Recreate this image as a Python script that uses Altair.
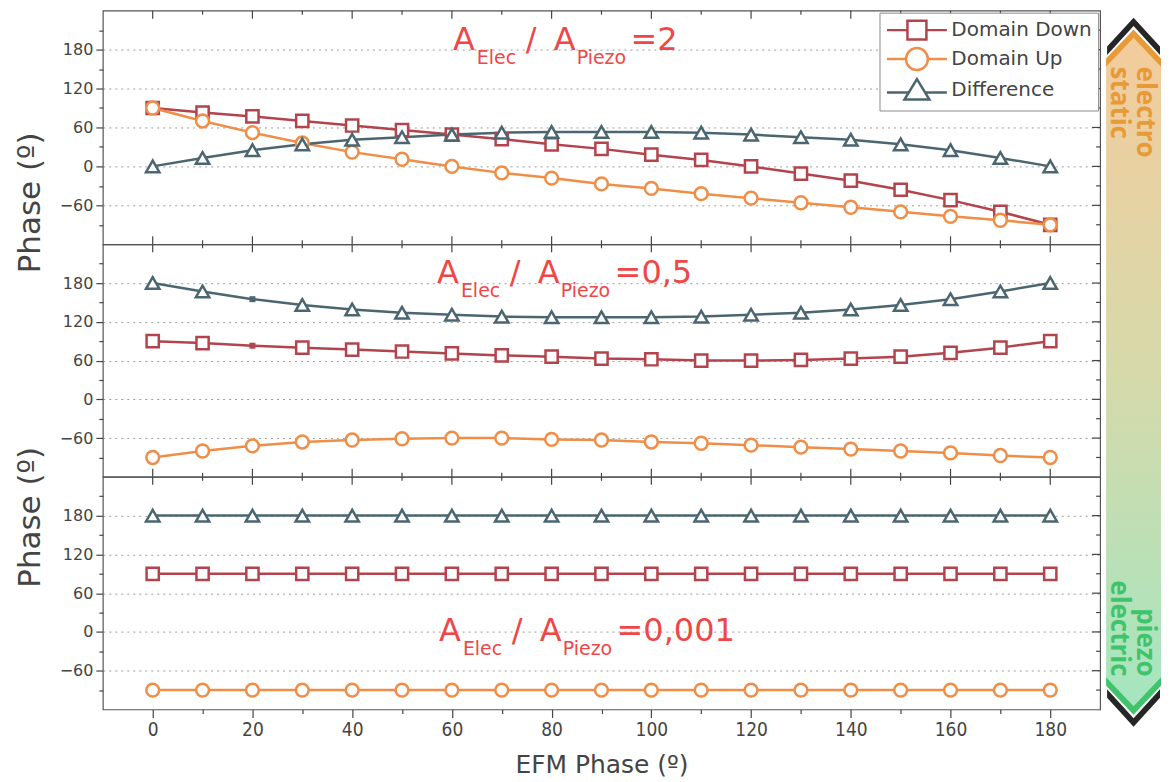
import altair as alt
import pandas as pd

# ---------------- data ----------------
phase = [0, 10, 20, 30, 40, 50, 60, 70, 80, 90, 100, 110, 120, 130, 140, 150, 160, 170, 180]
series_names = ["Domain Down", "Domain Up", "Difference"]
ratio_labels = ["2", "0,5", "0,001"]

# panel 1 : A_Elec / A_Piezo = 2
down_r2 = [90, 83, 77, 70, 63, 56, 49, 42, 34, 27, 18, 10, 0, -11, -22, -36, -52, -70, -90]
up_r2 = [90, 70, 52, 36, 22, 11, 0, -10, -18, -27, -34, -42, -49, -56, -63, -70, -77, -83, -90]
diff_r2 = [0, 13, 25, 34, 41, 45, 49, 52, 53, 53, 53, 52, 49, 45, 41, 34, 25, 13, 0]

# panel 2 : A_Elec / A_Piezo = 0,5
down_r05 = [90, 87, 83, 80, 77, 74, 71, 68, 66, 63, 62, 60, 60, 61, 63, 66, 72, 80, 90]
up_r05 = [-90, -80, -72, -66, -63, -61, -60, -60, -62, -63, -66, -68, -71, -74, -77, -80, -83, -87, -90]
diff_r05 = [180, 167, 155, 146, 139, 134, 131, 128, 127, 127, 127, 128, 131, 134, 139, 146, 155, 167, 180]

# panel 3 : A_Elec / A_Piezo = 0,001
down_r0001 = [90, 90, 90, 90, 90, 90, 90, 90, 90, 90, 90, 90, 90, 90, 90, 90, 90, 90, 90]
up_r0001 = [-90, -90, -90, -90, -90, -90, -90, -90, -90, -90, -90, -90, -90, -90, -90, -90, -90, -90, -90]
diff_r0001 = [180, 180, 180, 180, 180, 180, 180, 180, 180, 180, 180, 180, 180, 180, 180, 180, 180, 180, 180]

# in panel 2 the markers at EFM phase 20 are drawn as small filled squares
small_marker_panel = 1
small_marker_phase = 20
small_marker_series = ["Domain Down", "Difference"]

x_major = [0, 20, 40, 60, 80, 100, 120, 140, 160, 180]
x_minor = [10, 30, 50, 70, 90, 110, 130, 150, 170]
y_major = [-60, 0, 60, 120, 180]
y_minor = [-90, -30, 30, 90, 150, 210]

# ---------------- styles ----------------
colors = ["#b3434c", "#f08d47", "#4b6671"]
shapes = ["square", "circle", "triangle-up"]
sizes = [150, 180, 310]
legend_paths = [
    "M-3,0H-0.95M0.95,0H3M-0.95,-0.95H0.95V0.95H-0.95Z",
    "M-3,0H-1.1M1.1,0H3M1.1,0A1.1,1.1,0,1,1,-1.1,0A1.1,1.1,0,1,1,1.1,0Z",
    "M-3,0.25H-0.82M0.82,0.25H3M0,-1.1L1.25,0.95H-1.25Z",
]
ann_color = "#ef4747"
txt_color = "#444444"
tick_color = "#444444"
FONT = "DejaVu Sans"
XFONT = "DejaVu Sans Condensed, Liberation Sans Narrow, DejaVu Sans"

W = 999
heights = [234, 233, 233]
X_DOM = [-10, 190]
Y_DOM = [-120, 240]
MAJ, MIN = 8, 4


def long_df(vals, pidx):
    rows = []
    for k, (s, v) in enumerate(zip(series_names, vals)):
        for p, val in zip(phase, v):
            small = (pidx == small_marker_panel and p == small_marker_phase and s in small_marker_series)
            rows.append(dict(phase=p, value=val, series=s, k=k, small=small))
    return pd.DataFrame(rows)


panel_vals = [
    (down_r2, up_r2, diff_r2),
    (down_r05, up_r05, diff_r05),
    (down_r0001, up_r0001, diff_r0001),
]

# annotation layout (pixel offsets from the first "A")
ann_dx = [0, 24, 73, 101, 124, 178]
ann_sub = [False, True, False, False, True, False]
ann_anchor_x = [60.2, 57.0, 57.4]
ann_anchor_y = [180, 180, -14]
big_fs, sub_fs = 32, 19


def ann_df(pidx):
    pieces = ["A", "Elec", "/", "A", "Piezo", "=" + ratio_labels[pidx]]
    h = heights[pidx]
    rows = []
    for t, dx, sub in zip(pieces, ann_dx, ann_sub):
        rows.append(dict(
            text=t,
            x=ann_anchor_x[pidx] + dx * (X_DOM[1] - X_DOM[0]) / W,
            y=ann_anchor_y[pidx] - (14 * (Y_DOM[1] - Y_DOM[0]) / h if sub else 0),
            fs=sub_fs if sub else big_fs,
        ))
    return pd.DataFrame(rows)


XS = alt.Scale(domain=X_DOM, nice=False, zero=False)
YS = alt.Scale(domain=Y_DOM, nice=False, zero=False)


def xs(axis, field="phase"):
    return alt.X(f"{field}:Q", scale=XS, axis=axis)


def ys(axis, field="value"):
    return alt.Y(f"{field}:Q", scale=YS, axis=axis)


def inward_ticks(h, bottom):
    """Inner tick marks on the frame edges, placed through the scales."""
    layers = []
    for vals, size in ((x_major, MAJ), (x_minor, MIN)):
        d = alt.Chart(pd.DataFrame({"v": vals})).mark_rule(color=tick_color, strokeWidth=1.2)
        layers.append(d.encode(x=xs(None, "v"), y=alt.value(0), y2=alt.value(size)))
        if bottom:
            layers.append(d.encode(x=xs(None, "v"), y=alt.value(h - size), y2=alt.value(h)))
    for vals, size in ((y_major, MAJ), (y_minor, MIN)):
        d = alt.Chart(pd.DataFrame({"v": vals})).mark_rule(color=tick_color, strokeWidth=1.2)
        layers.append(d.encode(y=ys(None, "v"), x=alt.value(W - size), x2=alt.value(W)))
    return layers


def make_panel(pidx):
    df = long_df(panel_vals[pidx], pidx)
    h = heights[pidx]
    base = alt.Chart(df)
    last = pidx == 2

    if last:
        xb = alt.Axis(orient="bottom", values=x_major + x_minor,
                      tickSize={"condition": {"test": "datum.value % 20 === 0", "value": MAJ}, "value": MIN},
                      labelExpr="datum.value % 20 === 0 ? datum.label : ''",
                      labels=True, grid=False, domain=False,
                      labelFont=XFONT, labelFontSize=19, labelPadding=3, labelColor=txt_color,
                      labelFlush=False, labelOverlap=False,
                      title="EFM Phase (º)", titleFont=FONT, titleFontSize=25, titleFontWeight="normal",
                      titleColor=txt_color, titlePadding=13)
    else:
        xb = None

    yl_kwargs = dict(orient="left", values=y_major + y_minor,
                     tickSize={"condition": {"test": "datum.value % 60 === 0", "value": 7}, "value": MIN},
                     labelExpr="datum.value % 60 === 0 ? datum.label : ''",
                     labels=True, grid=True,
                     gridOpacity={"condition": {"test": "datum.value % 60 === 0", "value": 1}, "value": 0},
                     gridDash=[2, 4], gridColor="#9c9c9c", gridWidth=1, domain=False,
                     labelFont=FONT, labelFontSize=16, labelPadding=3, labelColor=txt_color,
                     labelFlush=False, labelOverlap=False)
    if pidx in (0, 2):
        ty = 192 if pidx == 0 else 40
        yl = alt.Axis(title="Phase (º)", titleFont=FONT, titleFontSize=31, titleFontWeight="normal",
                      titleColor=txt_color, titleAngle=270, titleAlign="center", titleBaseline="middle",
                      titleX=-72, titleY=ty, **yl_kwargs)
    else:
        yl = alt.Axis(title=None, **yl_kwargs)

    axes_layer = base.transform_filter("false").mark_point(opacity=0).encode(x=xs(xb), y=ys(yl))

    lines = base.mark_line(strokeWidth=2.5, strokeJoin="round").encode(
        x=xs(None), y=ys(None),
        color=alt.Color("series:N", scale=alt.Scale(domain=series_names, range=colors), legend=None),
        detail="series:N",
        order="phase:Q",
    )
    pts = base.transform_filter("!datum.small").mark_point(filled=True, fill="white", strokeWidth=2.5,
                                                           opacity=1).encode(
        x=xs(None), y=ys(None),
        stroke=alt.Stroke("series:N", scale=alt.Scale(domain=series_names, range=colors), legend=None),
        shape=alt.Shape("series:N", scale=alt.Scale(domain=series_names, range=shapes), legend=None),
        size=alt.Size("series:N", scale=alt.Scale(domain=series_names, range=sizes), legend=None),
    )
    small = base.transform_filter("datum.small").mark_point(shape="square", filled=True, size=36,
                                                            opacity=1).encode(
        x=xs(None), y=ys(None),
        fill=alt.Fill("series:N", scale=alt.Scale(domain=series_names, range=colors), legend=None),
    )
    ann = alt.Chart(ann_df(pidx)).mark_text(align="left", baseline="alphabetic", color=ann_color,
                                            font=FONT).encode(
        x=xs(None, "x"), y=ys(None, "y"),
        text="text:N",
        size=alt.Size("fs:Q", scale=None),
    )
    layers = [axes_layer] + inward_ticks(h, bottom=not last) + [lines, pts, small, ann]
    if pidx == 0:
        leg = base.transform_filter("false").mark_point(filled=False, strokeWidth=2.5, opacity=1).encode(
            x=xs(None), y=ys(None),
            color=alt.Color("series:N", scale=alt.Scale(domain=series_names, range=colors),
                            legend=alt.Legend(title=None, orient="top-right", offset=2, padding=6,
                                              strokeColor="#8a8a8a", fillColor="white",
                                              symbolSize=400, symbolStrokeWidth=2.5, symbolOffset=20,
                                              labelOffset=23, labelFont=FONT, labelFontSize=20,
                                              labelColor=txt_color, rowPadding=-2)),
            shape=alt.Shape("series:N", scale=alt.Scale(domain=series_names, range=legend_paths)),
        )
        layers.append(leg)
    return alt.layer(*layers).resolve_scale(
        color="independent", shape="independent", stroke="independent", size="independent", fill="independent"
    ).resolve_axis(x="independent", y="independent").properties(width=W, height=h)


panels = [make_panel(i) for i in range(3)]
main = alt.vconcat(*panels, spacing=0, bounds="flush").resolve_scale(
    color="independent", shape="independent", stroke="independent", size="independent", fill="independent"
).resolve_legend(color="independent", shape="independent")

# ---------------- side bar (electrostatic / piezoelectric) ----------------
SW, SH = 56, 720
band_x = [1, 28.5, 56]
band_top = [52, 23, 52]
band_bottom = [672, 701, 672]
# chevrons drawn as filled polygons (outer edge / inner edge)
chev_id = ["t", "t", "t", "o", "o", "o", "g", "g", "g", "b", "b", "b"]
chev_x = [2, 28.5, 55, 1, 28.5, 56, 1, 28.5, 56, 2, 28.5, 55]
chev_y1 = [36.0, 7.0, 36.0, 47.8, 18.8, 47.8, 667.8, 696.8, 667.8, 679.8, 708.8, 679.8]
chev_y2 = [44.4, 15.4, 44.4, 56.2, 27.2, 56.2, 676.2, 705.2, 676.2, 688.2, 717.2, 688.2]
chev_col = {"t": "#262626", "o": "#e89a36", "g": "#3fc46b", "b": "#262626"}
side_top_text = ["electro", "static"]
side_bot_text = ["piezo", "electric"]
side_text_x = [40, 14]

sxs = alt.Scale(domain=[0, SW], nice=False, zero=False)
sys_ = alt.Scale(domain=[0, SH], nice=False, zero=False, reverse=True)

band = alt.Chart(pd.DataFrame({"x": band_x, "top": band_top, "bottom": band_bottom})).mark_area(
    color=alt.LinearGradient(gradient="linear", x1=0, y1=0, x2=0, y2=1, stops=[
        alt.GradientStop(color="#f4cb9c", offset=0),
        alt.GradientStop(color="#d6d9aa", offset=0.5),
        alt.GradientStop(color="#a4e6c0", offset=1),
    ])
).encode(x=alt.X("x:Q", scale=sxs, axis=None), y=alt.Y("top:Q", scale=sys_, axis=None, stack=None),
         y2="bottom:Q")

chev_df = pd.DataFrame({"id": chev_id, "x": chev_x, "y1": chev_y1, "y2": chev_y2,
                        "col": [chev_col[c] for c in chev_id]})
chev = alt.Chart(chev_df).mark_area(opacity=1).encode(
    x=alt.X("x:Q", scale=sxs, axis=None), y=alt.Y("y1:Q", scale=sys_, axis=None, stack=None),
    y2="y2:Q", detail="id:N", color=alt.Color("col:N", scale=None),
)
top_txt = alt.Chart(pd.DataFrame({"t": side_top_text, "x": side_text_x, "y": [56, 56]})).mark_text(
    angle=90, align="left", baseline="middle", font="Open Sans", fontWeight="bold", fontSize=26,
    color="#e89a36").encode(x=alt.X("x:Q", scale=sxs, axis=None), y=alt.Y("y:Q", scale=sys_, axis=None),
                            text="t:N")
bot_txt = alt.Chart(pd.DataFrame({"t": side_bot_text, "x": side_text_x, "y": [667, 667]})).mark_text(
    angle=90, align="right", baseline="middle", font="Open Sans", fontWeight="bold", fontSize=26,
    color="#3fc46b").encode(x=alt.X("x:Q", scale=sxs, axis=None), y=alt.Y("y:Q", scale=sys_, axis=None),
                            text="t:N")
side = alt.layer(band, chev, top_txt, bot_txt).properties(
    width=SW, height=SH, view=alt.ViewBackground(stroke="transparent"))

chart = alt.hconcat(main, side, spacing=2).resolve_scale(
    color="independent", shape="independent", stroke="independent", size="independent", fill="independent"
).resolve_legend(color="independent", shape="independent").configure(
    padding={"left": 6, "top": 0, "right": 6, "bottom": 0}, font=FONT
).configure_view(stroke="#555555", strokeWidth=1.2).configure_axis(
    tickColor=tick_color, tickWidth=1.2, labelColor=txt_color, titleColor=txt_color
)

chart.save("out.html", embed_options={"renderer": "svg", "actions": False})
